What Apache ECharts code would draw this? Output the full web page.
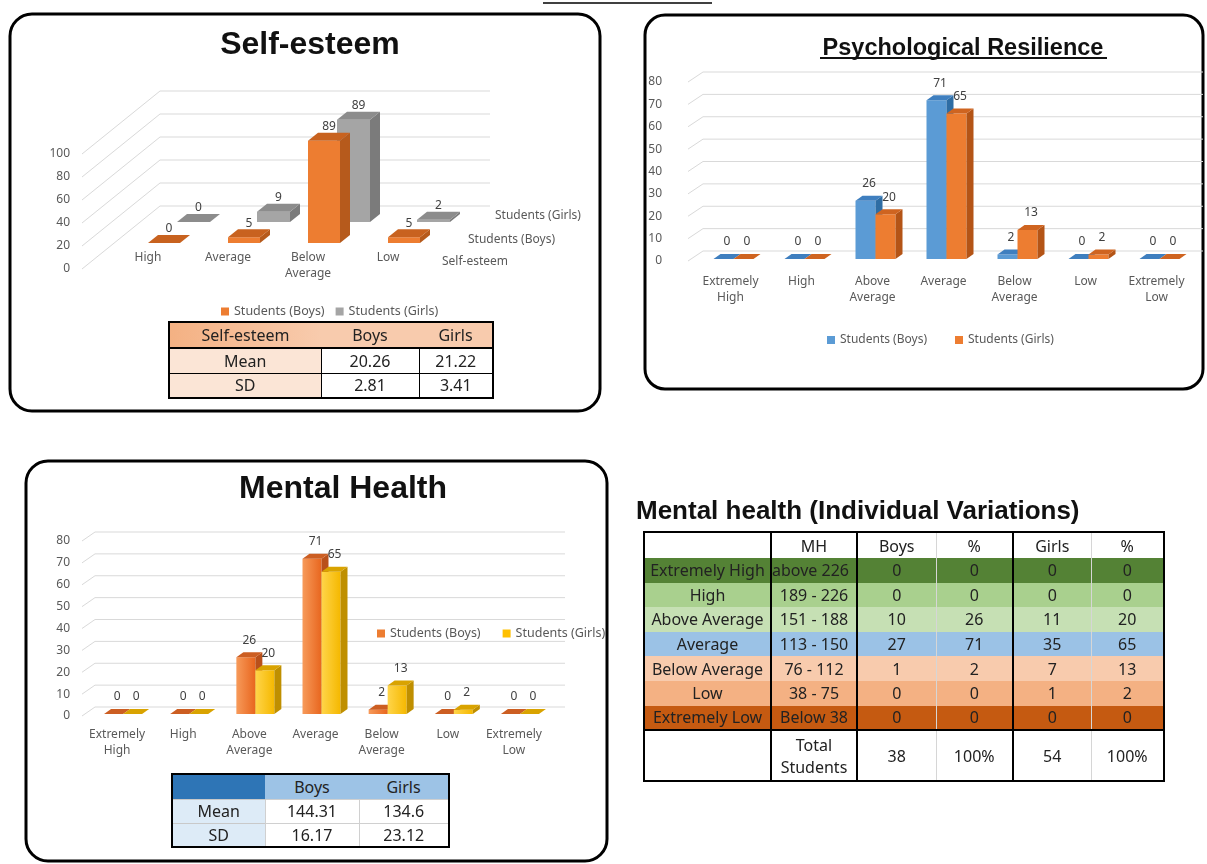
<!DOCTYPE html>
<html>
<head>
<meta charset="utf-8">
<script src="https://cdn.jsdelivr.net/npm/echarts@6/dist/echarts.min.js"></script>
<style>
body { margin: 0; background: #fff; }
#main { position: absolute; left: 0; top: 0; width: 1207px; height: 864px; }
table.t { position: absolute; border-collapse: collapse; table-layout: fixed; font-family: "Noto Sans", sans-serif; color: #222; z-index: 5; }
table.t td { padding: 0; text-align: center; white-space: nowrap; overflow: hidden; }
</style>
</head>
<body>
<div id="main"></div>
<div id="tables"></div>
<script>
// chart data
var seCats = ['High', 'Average', 'Below Average', 'Low'];
var seBoys = [0, 5, 89, 5];
var seGirls = [0, 9, 89, 2];
var seTicks = [0, 20, 40, 60, 80, 100];

var levels = ['Extremely High', 'High', 'Above Average', 'Average', 'Below Average', 'Low', 'Extremely Low'];
var prBoys = [0, 0, 26, 71, 2, 0, 0];
var prGirls = [0, 0, 20, 65, 13, 2, 0];
var mhBoys = [0, 0, 26, 71, 2, 0, 0];
var mhGirls = [0, 0, 20, 65, 13, 2, 0];
var tenTicks = [0, 10, 20, 30, 40, 50, 60, 70, 80];

// table data
var seStatHead = ['Self-esteem', 'Boys', 'Girls'];
var seStatRows = ['Mean', 'SD'];
var seStatBoys = ['20.26', '2.81'];
var seStatGirls = ['21.22', '3.41'];
var mhStatHead = ['', 'Boys', 'Girls'];
var mhStatRows = ['Mean', 'SD'];
var mhStatBoys = ['144.31', '16.17'];
var mhStatGirls = ['134.6', '23.12'];
var ivHead = ['', 'MH', 'Boys', '%', 'Girls', '%'];
var ivLabels = ['Extremely  High', 'High', 'Above Average', 'Average', 'Below Average', 'Low', 'Extremely Low'];
var ivRanges = ['above 226', '189 - 226', '151 - 188', '113 - 150', '76 - 112', '38 - 75', 'Below 38'];
var ivBoysN = [0, 0, 10, 27, 1, 0, 0];
var ivBoysPct = [0, 0, 26, 71, 2, 0, 0];
var ivGirlsN = [0, 0, 11, 35, 7, 1, 0];
var ivGirlsPct = [0, 0, 20, 65, 13, 2, 0];
var ivTotal = ['', 'Total\nStudents', '38', '100%', '54', '100%'];
var ivColors = ['#548235', '#A9D08E', '#C6E0B4', '#9BC2E6', '#F8CBAD', '#F4B183', '#C55A11'];

var FONT = '"Noto Sans", sans-serif';
var GREY = '#595959';

function wallSeries(gi, ticks, a, dx, dy, b) {
  return {
    type: 'custom', xAxisIndex: gi, yAxisIndex: gi, silent: true, z: 1,
    data: ticks.map(function (v) { return [0, v]; }),
    renderItem: function (params, api) {
      var cs = params.coordSys;
      var y = api.coord([0, api.value(1)])[1];
      return {
        type: 'polyline',
        shape: { points: [[cs.x + a, y], [cs.x + a + dx, y - dy], [cs.x + cs.width + b, y - dy]] },
        style: { stroke: '#d9d9d9', lineWidth: 1, fill: null }
      };
    }
  };
}

function boxSeries(name, gi, vals, o) {
  return {
    name: name, type: 'custom', xAxisIndex: gi, yAxisIndex: gi, z: 2,
    itemStyle: { color: o.legend },
    data: vals.map(function (v, i) { return [i, v]; }),
    renderItem: function (params, api) {
      var i = api.value(0), v = api.value(1);
      var b = api.coord([i, 0]), t = api.coord([i, v]);
      var x0 = b[0] + o.ox, x1 = x0 + o.w;
      var yb = b[1] + o.oy, yt = t[1] + o.oy;
      return {
        type: 'group',
        children: [
          { type: 'rect', shape: { x: x0, y: yt, width: o.w, height: yb - yt }, style: { fill: o.front } },
          { type: 'polygon', shape: { points: [[x1, yt], [x1 + o.dx, yt - o.dy], [x1 + o.dx, yb - o.dy], [x1, yb]] }, style: { fill: o.side } },
          { type: 'polygon', shape: { points: [[x0, yt], [x0 + o.dx, yt - o.dy], [x1 + o.dx, yt - o.dy], [x1, yt]] }, style: { fill: o.top } },
          { type: 'text', style: {
              text: String(v), x: x0 + o.w / 2 + o.dx / 2, y: yt - o.dy - o.lift,
              fill: '#404040', font: '12px ' + FONT,
              align: 'center', verticalAlign: 'bottom', textAlign: 'center', textVerticalAlign: 'bottom' } }
        ]
      };
    }
  };
}

function grad(c1, c2) {
  return new echarts.graphic.LinearGradient(0, 0, 1, 0, [{ offset: 0, color: c1 }, { offset: 1, color: c2 }]);
}

function yAx(gi, max, step, margin) {
  return {
    type: 'value', gridIndex: gi, min: 0, max: max, interval: step,
    axisLine: { show: false }, axisTick: { show: false }, splitLine: { show: false },
    axisLabel: { color: GREY, fontSize: 12, fontFamily: FONT, margin: margin }
  };
}

function xAx(gi, cats, margin) {
  return {
    type: 'category', gridIndex: gi, data: cats,
    axisLine: { show: false }, axisTick: { show: false }, splitLine: { show: false },
    axisLabel: {
      color: GREY, fontSize: 12, fontFamily: FONT, margin: margin, lineHeight: 16, interval: 0,
      formatter: function (v) { return v.replace(' ', '\n'); }
    }
  };
}

function legendAt(left, top, gap, size, c1, c2) {
  return {
    left: left, top: top, icon: 'rect', itemWidth: 8, itemHeight: 8, itemGap: gap,
    selectedMode: false,
    textStyle: { color: GREY, fontSize: size, fontFamily: FONT },
    data: [
      { name: 'Students (Boys)', itemStyle: { color: c1 } },
      { name: 'Students (Girls)', itemStyle: { color: c2 } }
    ]
  };
}

var boxStyle = { fill: 'transparent', stroke: '#000', lineWidth: 3 };

var option = {
  backgroundColor: '#fff',
  animation: false,
  title: [
    { text: 'Self-esteem', left: 310, top: 29, textAlign: 'center', padding: 0,
      textStyle: { fontSize: 32, fontWeight: 'bold', color: '#111', fontFamily: '"Liberation Sans", Arial' } },
    { text: 'Psychological Resilience', left: 963, top: 37, textAlign: 'center', padding: 0,
      textStyle: { fontSize: 23.5, fontWeight: 'bold', color: '#111', fontFamily: '"Liberation Sans", Arial' } },
    { text: 'Mental Health', left: 343, top: 473, textAlign: 'center', padding: 0,
      textStyle: { fontSize: 32, fontWeight: 'bold', color: '#111', fontFamily: '"Liberation Sans", Arial' } },
    { text: 'Mental health (Individual Variations)', left: 636, top: 499, padding: 0,
      textStyle: { fontSize: 26, fontWeight: 'bold', color: '#111', fontFamily: '"Liberation Sans", Arial' } }
  ],
  grid: [
    { left: 108, top: 154, width: 320, height: 115 },
    { left: 695, top: 82, width: 497, height: 179 },
    { left: 84, top: 541, width: 463, height: 175 }
  ],
  xAxis: [xAx(0, seCats, -19), xAx(1, levels, 13), xAx(2, levels, 11)],
  yAxis: [yAx(0, 100, 20, 38), yAx(1, 80, 10, 33), yAx(2, 80, 10, 14)],
  legend: [
    legendAt(216, 300, 11, 12.5, '#ED7D31', '#A5A5A5'),
    legendAt(822, 329, 28, 12, '#5B9BD5', '#ED7D31'),
    legendAt(372, 622, 22, 12.5, '#ED7D31', '#FFC000')
  ],
  series: [
    wallSeries(0, seTicks, -26, 78, 63, 62),
    boxSeries('Students (Girls)', 0, seGirls, { w: 33, dx: 10, dy: 8, ox: 29, oy: -47, lift: 0,
      front: '#A5A5A5', side: '#7B7B7B', top: '#8C8C8C', legend: '#A5A5A5' }),
    boxSeries('Students (Boys)', 0, seBoys, { w: 32, dx: 10, dy: 8, ox: 0, oy: -26, lift: 0,
      front: '#ED7D31', side: '#B65A1C', top: '#C8621F', legend: '#ED7D31' }),

    wallSeries(1, tenTicks, -7, 15, 10, 11),
    boxSeries('Students (Boys)', 1, prBoys, { w: 20, dx: 7, dy: 5, ox: -17, oy: -2, lift: 6,
      front: '#5B9BD5', side: '#2E6DA4', top: '#3F7FBF', legend: '#5B9BD5' }),
    boxSeries('Students (Girls)', 1, prGirls, { w: 20, dx: 7, dy: 5, ox: 3, oy: -2, lift: 6,
      front: '#ED7D31', side: '#B45416', top: '#CF6420', legend: '#ED7D31' }),

    wallSeries(2, tenTicks, -2, 13, 9, 18),
    boxSeries('Students (Boys)', 2, mhBoys, { w: 19, dx: 7, dy: 5, ox: -13, oy: -2, lift: 6,
      front: grad('#F79A5A', '#E8661E'), side: '#B9501A', top: '#CC5E22', legend: '#E97132' }),
    boxSeries('Students (Girls)', 2, mhGirls, { w: 19, dx: 7, dy: 5, ox: 6, oy: -2, lift: 6,
      front: grad('#FFD54A', '#F5B800'), side: '#BF8F00', top: '#D9A300', legend: '#FFC000' })
  ],
  graphic: [
    { type: 'rect', shape: { x: 10, y: 14, width: 590, height: 397, r: 22 }, style: boxStyle },
    { type: 'rect', shape: { x: 645, y: 15, width: 558, height: 374, r: 20 }, style: boxStyle },
    { type: 'rect', shape: { x: 26, y: 461, width: 581, height: 400, r: 22 }, style: boxStyle },
    { type: 'line', shape: { x1: 543, y1: 3, x2: 712, y2: 3 }, style: { stroke: '#000', lineWidth: 1.5 } },
    { type: 'line', shape: { x1: 820, y1: 58, x2: 1107, y2: 58 }, style: { stroke: '#111', lineWidth: 2 } },
    { type: 'text', x: 495, y: 216, style: { text: 'Students (Girls)', fill: GREY, font: '12px ' + FONT, textVerticalAlign: 'middle', verticalAlign: 'middle' } },
    { type: 'text', x: 468, y: 240, style: { text: 'Students (Boys)', fill: GREY, font: '12px ' + FONT, textVerticalAlign: 'middle', verticalAlign: 'middle' } },
    { type: 'text', x: 442, y: 262, style: { text: 'Self-esteem', fill: GREY, font: '12px ' + FONT, textVerticalAlign: 'middle', verticalAlign: 'middle' } }
  ]
};

var myChart = echarts.init(document.getElementById('main'));
myChart.setOption(option);

// tables
function cell(txt, css) { return '<td style="' + css + '">' + String(txt).replace('\n', '<br>') + '</td>'; }
function colgroup(ws) { return '<colgroup>' + ws.map(function (w) { return '<col style="width:' + w + 'px">'; }).join('') + '</colgroup>'; }

var html = '';

// self-esteem stats
var seW = [152, 98, 74];
html += '<table class="t" style="left:168px;top:321px;width:324px;font-size:16px;border:2.5px solid #000;">' + colgroup(seW);
html += '<tr style="height:26px">' +
  cell(seStatHead[0], 'background:linear-gradient(to right,#F4B183,#F8CBAD);border-bottom:2px solid #000') +
  cell(seStatHead[1], 'background:#F8CBAD;border-bottom:2px solid #000') +
  cell(seStatHead[2], 'background:#F8CBAD;border-bottom:2px solid #000') + '</tr>';
seStatRows.forEach(function (r, i) {
  html += '<tr style="height:25px">' +
    cell(r, 'background:#FBE5D6;border:1px solid #000') +
    cell(seStatBoys[i], 'background:#fff;border:1px solid #000') +
    cell(seStatGirls[i], 'background:#fff;border:1px solid #000') + '</tr>';
});
html += '</table>';

// mental health stats
var mhW = [93, 94, 90];
html += '<table class="t" style="left:171px;top:773px;width:277px;font-size:16px;border:2.5px solid #000;">' + colgroup(mhW);
html += '<tr style="height:25px">' +
  cell(mhStatHead[0], 'background:#2E75B6') +
  cell(mhStatHead[1], 'background:#9DC3E6') +
  cell(mhStatHead[2], 'background:#9DC3E6') + '</tr>';
mhStatRows.forEach(function (r, i) {
  html += '<tr style="height:24px">' +
    cell(r, 'background:#DDEBF7;border-top:1px solid #c9c9c9') +
    cell(mhStatBoys[i], 'background:#fff;border:1px solid #d0d0d0') +
    cell(mhStatGirls[i], 'background:#fff;border:1px solid #d0d0d0') + '</tr>';
});
html += '</table>';

// individual variations
var ivW = [127, 86, 79, 77, 78, 73];
var thickCols = { 1: 1, 2: 1, 4: 1 };
function ivCss(ci, bg) {
  var s = 'background:' + bg + ';';
  if (thickCols[ci]) s += 'border-left:2px solid #000;';
  else if (ci > 0) s += 'border-left:1px solid #d6d6d6;';
  return s;
}
html += '<table class="t" style="left:643px;top:531px;width:520px;font-size:16px;border:2.5px solid #000;">' + colgroup(ivW);
html += '<tr style="height:26px">' + ivHead.map(function (h, ci) { return cell(h, ivCss(ci, '#fff')); }).join('') + '</tr>';
ivLabels.forEach(function (lab, r) {
  var vals = [lab, ivRanges[r], ivBoysN[r], ivBoysPct[r], ivGirlsN[r], ivGirlsPct[r]];
  var extra = r === ivLabels.length - 1 ? 'border-bottom:2px solid #000;' : '';
  html += '<tr style="height:24.6px">' + vals.map(function (v, ci) {
    return cell(v, ivCss(ci, ivColors[r]) + extra + (ci === 1 && r === 0 ? 'text-align:left;' : ''));
  }).join('') + '</tr>';
});
html += '<tr style="height:51px">' + ivTotal.map(function (v, ci) { return cell(v, ivCss(ci, '#fff') + 'line-height:22px;'); }).join('') + '</tr>';
html += '</table>';

document.getElementById('tables').innerHTML = html;
</script>
</body>
</html>
